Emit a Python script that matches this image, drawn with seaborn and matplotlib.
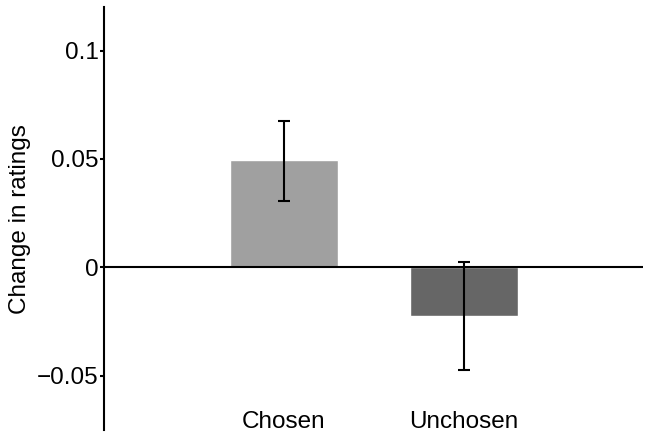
import numpy as np
import pandas as pd
import seaborn as sns
import matplotlib.pyplot as plt

# data
conditions = ['Chosen', 'Unchosen']
mean_change = [0.0495, -0.0222]
err_low = [0.0304, -0.0474]
err_high = [0.0674, 0.0026]
bar_colors = ['#a0a0a0', '#666666']
y_ticks = [-0.05, 0, 0.05, 0.1]
y_tick_labels = ['\u22120.05', '0', '0.05', '0.1']

sns.set_style('white')
plt.rcParams['font.family'] = ['Liberation Sans', 'DejaVu Sans']
plt.rcParams['text.color'] = 'black'
plt.rcParams['axes.labelcolor'] = 'black'
plt.rcParams['xtick.color'] = 'black'
plt.rcParams['ytick.color'] = 'black'

df = pd.DataFrame({'condition': conditions, 'change': mean_change})

fig = plt.figure(figsize=(6.5, 4.48), dpi=100)
ax = fig.add_axes([0.16, 0.0402, 0.829, 0.9438])

sns.barplot(data=df, x='condition', y='change', hue='condition',
            palette=bar_colors, saturation=1, width=0.6, errorbar=None,
            legend=False, ax=ax)

# error bars
x_pos = np.arange(len(conditions))
means = np.array(mean_change)
yerr = np.vstack([means - np.array(err_low), np.array(err_high) - means])
ax.errorbar(x_pos, means, yerr=yerr, fmt='none', ecolor='black',
            elinewidth=1.5, capsize=4, capthick=1.5)

ax.axhline(0, color='black', linewidth=1.5)

ax.set_xlim(-1.0, 1.995)
ax.set_ylim(-0.075, 0.12)
ax.set_yticks(y_ticks)
ax.set_yticklabels(y_tick_labels)
ax.set_xlabel('')
ax.set_ylabel('Change in ratings', fontsize=17.5, labelpad=4)

for side in ['top', 'right', 'bottom']:
    ax.spines[side].set_visible(False)
ax.spines['left'].set_linewidth(1.5)
ax.spines['left'].set_color('black')

ax.tick_params(axis='y', direction='out', length=3, width=1.5, pad=1,
               labelsize=17.5, left=True, colors='black')
ax.tick_params(axis='x', length=0, pad=-14, labelsize=17.5, colors='black')

plt.savefig('out.png', dpi=100)
